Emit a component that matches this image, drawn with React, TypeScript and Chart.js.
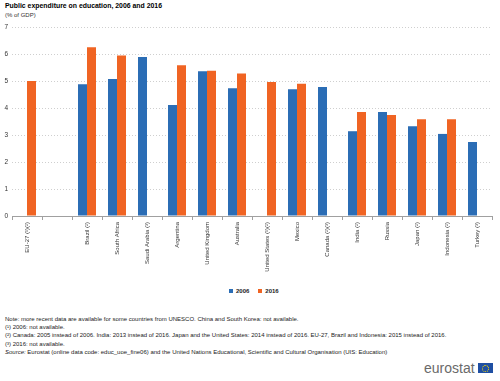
import React, { useEffect, useRef } from "react";
import { Chart, registerables } from "chart.js";

Chart.register(...registerables);

const categories = [
  "EU-27 (¹)(²)",
  "",
  "Brazil (²)",
  "South Africa",
  "Saudi Arabia (³)",
  "Argentina",
  "United Kingdom",
  "Australia",
  "United States (¹)(²)",
  "Mexico",
  "Canada (²)(³)",
  "India (²)",
  "Russia",
  "Japan (²)",
  "Indonesia (²)",
  "Turkey (³)",
];

const values2006 = [null, null, 4.88, 5.07, 5.89, 4.11, 5.36, 4.73, null, 4.69, 4.78, 3.14, 3.85, 3.32, 3.04, 2.74];
const values2016 = [5.0, null, 6.25, 5.94, null, 5.58, 5.38, 5.28, 4.96, 4.9, null, 3.85, 3.74, 3.58, 3.58, null];

const seriesLabels = ["2006", "2016"];
const seriesColors = ["#2B6DB5", "#F06423"];

const titleText = "Public expenditure on education, 2006 and 2016";
const subtitleText = "(% of GDP)";
const notes = [
  "Note: more recent data are available for some countries from UNESCO. China and South Korea: not available.",
  "(¹) 2006: not available.",
  "(²) Canada: 2005 instead of 2006. India: 2013 instead of 2016. Japan and the United States: 2014 instead of 2016. EU-27, Brazil and Indonesia: 2015 instead of 2016.",
  "(³) 2016: not available.",
];
const sourceLabel = "Source:";
const sourceText = " Eurostat (online data code: educ_uoe_fine06) and the United Nations Educational, Scientific and Cultural Organisation (UIS: Education)";

const FONT = "'Liberation Sans', Arial, sans-serif";

export default function App() {
  const canvasRef = useRef<HTMLCanvasElement | null>(null);

  useEffect(() => {
    const canvas = canvasRef.current;
    if (!canvas) return;
    const chart = new Chart(canvas, {
      type: "bar",
      data: {
        labels: categories,
        datasets: [
          {
            label: seriesLabels[0],
            data: values2006,
            backgroundColor: seriesColors[0],
            categoryPercentage: 0.6,
            barPercentage: 1,
          },
          {
            label: seriesLabels[1],
            data: values2016,
            backgroundColor: seriesColors[1],
            categoryPercentage: 0.6,
            barPercentage: 1,
          },
        ],
      },
      options: {
        responsive: false,
        animation: false,
        devicePixelRatio: 1,
        layout: { padding: { top: 27, right: 8, left: 0, bottom: 0 } },
        plugins: {
          legend: { display: false },
          tooltip: { enabled: false },
          title: { display: false },
        },
        scales: {
          x: {
            afterFit: (s: any) => {
              s.height = 69;
            },
            grid: {
              offset: true,
              drawOnChartArea: false,
              drawTicks: true,
              tickLength: 4,
              color: "#a0a0a0",
            },
            border: { display: true, color: "#a0a0a0" },
            ticks: {
              autoSkip: false,
              minRotation: 90,
              maxRotation: 90,
              padding: 2,
              color: "#333333",
              font: { family: FONT, size: 6 },
            },
          },
          y: {
            min: 0,
            max: 7,
            afterFit: (s: any) => {
              s.width = 12;
            },
            border: { display: false, dash: [1, 2] },
            grid: {
              color: "#cfcfcf",
              drawTicks: false,
              lineWidth: 1,
            },
            ticks: {
              stepSize: 1,
              padding: 4,
              color: "#333333",
              font: { family: FONT, size: 6.5 },
            },
          },
        },
      },
    } as any);
    return () => chart.destroy();
  }, []);

  const noteStyle: React.CSSProperties = {
    position: "absolute",
    left: 5,
    whiteSpace: "nowrap",
    fontSize: 6,
    lineHeight: "8px",
    color: "#222",
    fontFamily: FONT,
  };

  return (
    <div
      style={{
        position: "absolute",
        left: 0,
        top: 0,
        width: 500,
        height: 381,
        background: "#ffffff",
        overflow: "hidden",
        fontFamily: FONT,
      }}
    >
      <div
        style={{
          position: "absolute",
          left: 5,
          top: 1,
          fontSize: 6.9,
          fontWeight: "bold",
          color: "#000",
          whiteSpace: "nowrap",
          lineHeight: "9px",
        }}
      >
        {titleText}
      </div>
      <div
        style={{
          position: "absolute",
          left: 5,
          top: 11,
          fontSize: 6,
          color: "#333",
          whiteSpace: "nowrap",
          lineHeight: "8px",
        }}
      >
        {subtitleText}
      </div>
      <canvas
        ref={canvasRef}
        width={500}
        height={285}
        style={{ position: "absolute", left: 0, top: 0, width: 500, height: 285 }}
      />
      <div
        style={{
          position: "absolute",
          left: 229,
          top: 287,
          display: "flex",
          alignItems: "center",
          fontSize: 6,
          fontWeight: "bold",
          color: "#222",
          lineHeight: "8px",
          whiteSpace: "nowrap",
        }}
      >
        <span style={{ display: "inline-block", width: 4, height: 4, background: seriesColors[0], marginRight: 3 }} />
        <span style={{ marginRight: 9 }}>{seriesLabels[0]}</span>
        <span style={{ display: "inline-block", width: 4, height: 4, background: seriesColors[1], marginRight: 3 }} />
        <span>{seriesLabels[1]}</span>
      </div>
      {notes.map((n, i) => (
        <div key={i} style={{ ...noteStyle, top: 315 + i * 8.2 }}>
          {n}
        </div>
      ))}
      <div style={{ ...noteStyle, top: 315 + 4 * 8.2 }}>
        <i>{sourceLabel}</i>
        {sourceText}
      </div>
      <div
        style={{
          position: "absolute",
          left: 424,
          top: 360,
          fontSize: 14,
          color: "#6a6a6a",
          lineHeight: "16px",
          whiteSpace: "nowrap",
        }}
      >
        eurostat
      </div>
      <div
        style={{
          position: "absolute",
          left: 478,
          top: 363,
          width: 15,
          height: 10,
          background: "#1F4FA3",
        }}
      >
        <div
          style={{
            position: "absolute",
            left: 4,
            top: 2,
            width: 5,
            height: 5,
            borderRadius: "50%",
            border: "1px dotted #FFE000",
          }}
        />
      </div>
    </div>
  );
}
